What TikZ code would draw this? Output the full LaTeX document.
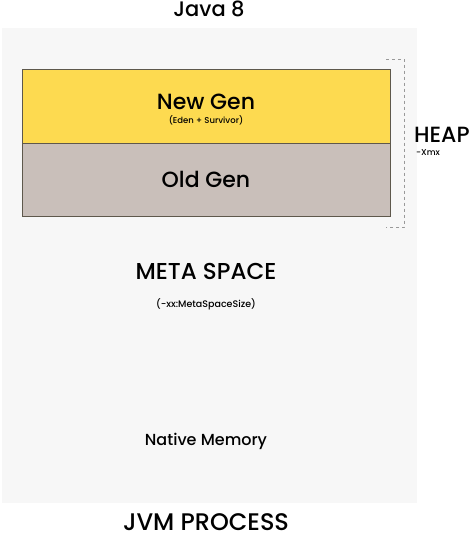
\documentclass[tikz,border=0pt]{standalone}
\usepackage{fontspec}
\setmainfont{Poppins}[UprightFont=* Medium]
\definecolor{procbg}{HTML}{F7F7F7}
\definecolor{newgen}{HTML}{FDDA50}
\definecolor{oldgen}{HTML}{C9BFBA}
\definecolor{edge}{HTML}{5E584C}
\begin{document}
\begin{tikzpicture}[x=1pt, y=-1pt, every node/.style={inner sep=0pt, anchor=base}]
\useasboundingbox (0,0) rectangle (474,536);
\fill[procbg] (2,28) rectangle (417,503);
\node (java) at (209,16) {\fontsize{21}{21}\selectfont Java 8};
% heap boxes
\draw[edge, fill=newgen] (22,69) rectangle (390,143);
\draw[edge, fill=oldgen] (22,143) rectangle (390,216);
\node (new) at (206,109) {\fontsize{22}{22}\selectfont New Gen};
\node (eden) at (206,123.5) {\fontsize{8.5}{8.5}\selectfont (Eden + Survivor)};
\node (old) at (206,187) {\fontsize{22}{22}\selectfont Old Gen};
% bracket
\draw[gray!80, thick, dashed] (386,59)--(404.5,59)--(404.5,227)--(386,227);
\node[anchor=base west] (heap) at (414,142) {\fontsize{22}{22}\selectfont HEAP};
\node[anchor=base west] (xmx) at (416,155) {\fontsize{8.5}{8.5}\selectfont -Xmx};
\node (meta) at (206,279) {\fontsize{23}{23}\selectfont META SPACE};
\node (metasize) at (206,307) {\fontsize{9.5}{9.5}\selectfont (-xx:MetaSpaceSize)};
\node (native) at (206,445) {\fontsize{16}{16}\selectfont Native Memory};
\node[text depth=0pt] (jvm) at (206,530) {\fontsize{24}{24}\selectfont JVM PROCESS};
\end{tikzpicture}
\end{document}
